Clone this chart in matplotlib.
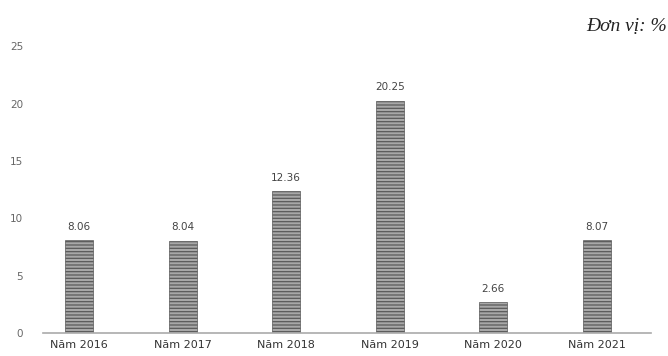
import matplotlib.pyplot as plt

years = ["Năm 2016", "Năm 2017", "Năm 2018", "Năm 2019", "Năm 2020", "Năm 2021"]
values = [8.06, 8.04, 12.36, 20.25, 2.66, 8.07]
yticks = [0, 5, 10, 15, 20, 25]

plt.rcParams['hatch.color'] = '#3a3a3a'
plt.rcParams['hatch.linewidth'] = 0.9

fig = plt.figure(figsize=(6.68, 3.56), dpi=100)
ax = fig.add_axes([0.064, 0.065, 0.91, 0.805])

x = range(len(years))
bars = ax.bar(x, values, width=0.27, color='#a8a8a8', edgecolor='#5a5a5a',
              linewidth=0.5, hatch='-----')
for b, v in zip(bars, values):
    ax.text(b.get_x() + b.get_width() / 2, v + 0.75, f"{v:.2f}",
            ha='center', va='bottom', fontsize=7.5, color='#444444')

ax.set_xlim(-0.35, 5.52)
ax.set_ylim(0, 25)
ax.set_yticks(yticks)
ax.set_xticks(list(x))
ax.set_xticklabels(years)
ax.tick_params(axis='y', length=0, labelsize=7.5, labelcolor='#666666', pad=14)
ax.tick_params(axis='x', length=0, labelsize=8, labelcolor='#333333', pad=5)
for s in ['top', 'right', 'left']:
    ax.spines[s].set_visible(False)
ax.spines['bottom'].set_color('#aaaaaa')
ax.spines['bottom'].set_linewidth(1.2)

fig.text(0.998, 0.925, "Đơn vị: %", ha='right', va='center', fontsize=14,
         family='Liberation Serif', style='italic', color='#222222')

plt.savefig("out.png")
